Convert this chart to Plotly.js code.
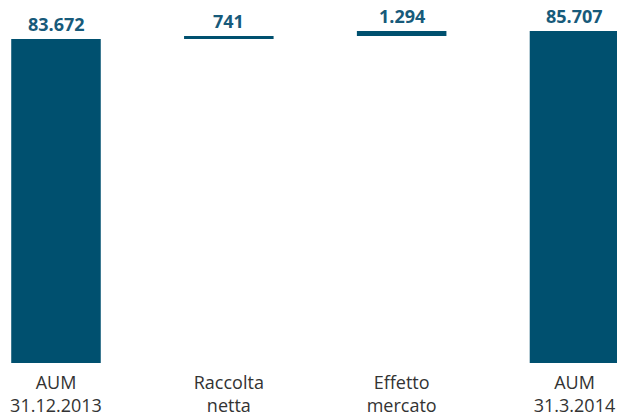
<!DOCTYPE html>
<html>
<head>
<meta charset="utf-8">
<script src="https://cdn.plot.ly/plotly-3.0.1.min.js"></script>
<style>
html,body{margin:0;padding:0;background:#fff;}
#chart{width:617px;height:416px;}
</style>
</head>
<body>
<div id="chart"></div>
<script>
var categories = ["AUM<br>31.12.2013", "Raccolta<br>netta", "Effetto<br>mercato", "AUM<br>31.3.2014"];
var values = [83672, 741, 1294, 85707];
var measures = ["absolute", "relative", "relative", "total"];

var BAR = "#00506f";
var LABEL = "#175a7a";

function fmt(v){
  return String(v).replace(/\B(?=(\d{3})+(?!\d))/g, ".");
}

// bar tops computed from the data
var tops = [];
var run = 0;
for (var i = 0; i < values.length; i++) {
  if (measures[i] === "absolute") { run = values[i]; tops.push(run); }
  else if (measures[i] === "relative") { run += values[i]; tops.push(Math.max(run, run - values[i])); }
  else { tops.push(values[i]); }
}

var trace = {
  type: "waterfall",
  x: categories,
  y: values,
  measure: measures,
  width: categories.map(function(){return 0.518;}),
  increasing: {marker: {color: BAR}},
  decreasing: {marker: {color: BAR}},
  totals: {marker: {color: BAR}},
  connector: {visible: false},
  textinfo: "none",
  hoverinfo: "none"
};

var annotations = categories.map(function(c, i){
  return {
    x: c, y: tops[i], xref: "x", yref: "y",
    text: "<b>" + fmt(values[i]) + "</b>",
    showarrow: false, yanchor: "bottom", yshift: 1,
    font: {family: "Open Sans, sans-serif", size: 18, color: LABEL}
  };
});

var layout = {
  width: 617, height: 416,
  margin: {l: 0, r: 0, t: 0, b: 53, pad: 0},
  paper_bgcolor: "#ffffff", plot_bgcolor: "#ffffff",
  showlegend: false,
  xaxis: {
    range: [-0.324, 3.246],
    showgrid: false, zeroline: false, showline: false,
    ticks: "", fixedrange: true,
    ticklabelstandoff: 7,
    tickfont: {family: "Open Sans, sans-serif", size: 18, color: "#333333"}
  },
  yaxis: {
    range: [0, 93730], visible: false, showgrid: false, zeroline: false, fixedrange: true
  },
  annotations: annotations
};

Plotly.newPlot("chart", [trace], layout, {displayModeBar: false, staticPlot: true});
</script>
</body>
</html>
